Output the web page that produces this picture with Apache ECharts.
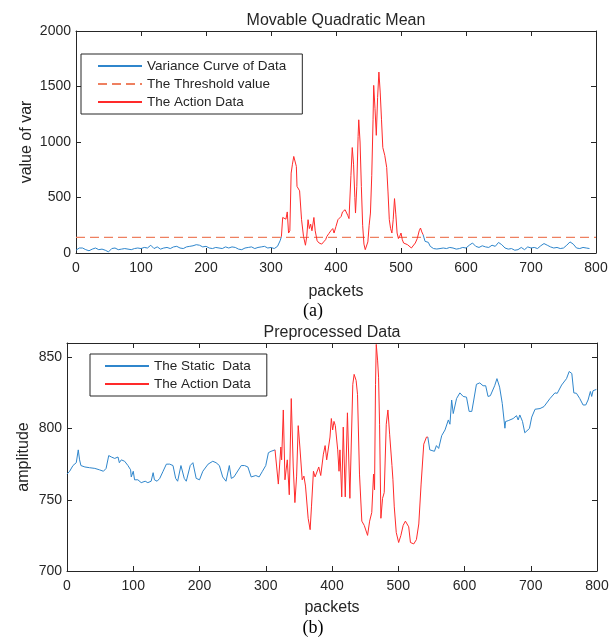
<!DOCTYPE html>
<html>
<head>
<meta charset="utf-8">
<script src="https://cdn.jsdelivr.net/npm/echarts@6/dist/echarts.min.js"></script>
<style>
  html, body { margin: 0; padding: 0; background: #fff; }
  #chart { width: 612px; height: 637px; }
</style>
</head>
<body>
<div id="chart"></div>
<script>
// ---- data ----
const xTicks = [0, 100, 200, 300, 400, 500, 600, 700, 800];
const thresholdValue = 140;

// (a) variance curve, before and after the action segment
const varianceHead = [[0,25],[5,45],[10,45],[15,30],[20,20],[25,35],[30,45],[35,30],[40,35],[45,25],[50,10],[55,40],[60,45],[65,30],[70,35],[75,40],[80,35],[85,30],[90,40],[95,45],[100,40],[105,50],[110,45],[115,70],[120,40],[125,55],[130,35],[135,45],[140,50],[145,40],[150,55],[155,60],[160,45],[165,40],[170,55],[175,60],[180,65],[185,75],[190,70],[195,55],[200,60],[205,45],[210,40],[215,50],[220,45],[225,40],[230,55],[235,45],[240,55],[245,50],[250,35],[255,30],[260,45],[265,50],[270,55],[275,40],[280,50],[285,55],[290,60],[295,45],[300,50],[305,40],[310,60],[314,110],[316,147]];
const varianceAction = [[316,147],[318,320],[321,310],[323,305],[325,370],[327,180],[329,200],[331,720],[333,800],[335,870],[337,885],[339,780],[340,600],[342,610],[344,560],[347,300],[350,150],[353,70],[355,150],[357,300],[359,220],[361,260],[363,200],[366,320],[368,200],[371,110],[374,90],[378,80],[381,100],[384,120],[386,150],[389,175],[392,200],[395,220],[397,180],[400,240],[403,300],[406,310],[408,330],[410,370],[412,360],[414,390],[416,390],[418,340],[420,310],[423,700],[425,950],[427,800],[429,500],[430,360],[432,600],[434,1050],[435,1200],[437,1000],[439,600],[441,250],[443,80],[445,30],[447,40],[449,100],[451,250],[453,360],[455,700],[457,1200],[458,1510],[460,1300],[462,1060],[464,1400],[466,1630],[468,1450],[470,1200],[472,950],[475,880],[478,770],[480,550],[482,300],[484,220],[486,180],[488,300],[490,490],[492,350],[494,180],[496,130],[498,150],[500,180],[502,120],[504,90],[507,80],[510,75],[513,70],[516,45],[519,55],[522,90],[525,130],[528,200],[530,225],[532,190],[534,165]];
const varianceTail = [[534,165],[537,105],[540,95],[542,96],[545,60],[547,45],[550,40],[555,36],[560,40],[565,45],[570,40],[575,50],[580,45],[585,35],[590,40],[595,50],[600,45],[605,70],[610,90],[615,60],[620,50],[625,65],[630,55],[635,50],[640,70],[645,60],[650,95],[655,75],[660,45],[665,35],[670,40],[675,25],[680,30],[685,50],[690,30],[695,55],[700,45],[705,50],[710,40],[715,65],[720,85],[725,70],[730,55],[735,45],[740,50],[745,40],[750,45],[755,70],[760,100],[765,80],[770,45],[775,40],[780,50],[785,45],[790,40]];

// (b) preprocessed amplitude
const staticHead = [[0,768],[4,770],[9,774],[14,776],[17,785],[19,778],[21,774],[27,773],[34,772.5],[42,772],[49,771],[55,770],[59,772],[63,781],[67,780],[72,779],[77,780],[79,776],[82,778],[87,777],[92,774],[96,771],[97,766],[100,770],[102,764],[107,764],[112,762],[118,763],[122,762],[127,763],[130,769],[132,764],[136,763],[140,765],[145,770],[150,775],[155,775],[160,774],[164,765],[167,763],[172,774],[175,775],[177,765],[180,763],[186,774],[190,776],[195,765],[200,764],[205,770],[213,775],[220,777],[225,776],[230,774],[235,766],[240,763],[245,774],[248,765],[252,766],[255,765],[263,774],[268,774],[273,773],[278,766],[280,765],[285,767],[290,766],[295,770],[300,774],[304,783],[308,784],[314,785]];
const actionAmplitude = [[314,785],[316.5,773],[319,761],[322.8,787],[324,778],[326.5,813],[329,764],[332.5,778],[335.5,753.5],[338.5,821],[341.5,773],[344,748],[346.6,766.6],[349,802],[351.5,787],[355,764],[357.6,766.6],[360,759.6],[364,737],[367,729],[369,745],[372,770],[374.5,766],[377,767],[380,773],[383,767],[387,782],[389.6,788],[392,778],[394,778],[397,794],[399,807],[401,799],[403,805],[405,802],[408.6,785],[410.6,770],[412,785],[414.7,752],[417,801],[420,752],[423.3,811],[427,751],[431.4,831],[433.4,838],[436.4,833.7],[438.5,824],[441.5,768],[445,735],[448.7,732],[453.7,725],[456.8,735],[460,741],[462.7,768],[464.2,757],[465.7,831],[466.8,859],[468.8,848],[470.3,836],[471.8,803],[473.8,737],[476.3,751],[478.8,755],[481.9,803],[484.4,813],[487,796],[490.5,774],[492,764],[494,745],[497,727],[500.6,720],[504,725],[507.4,732],[510.8,735],[513.3,733],[515.8,731],[518.4,720],[523.4,719],[527.4,722],[531,733],[534.5,761],[538.5,789],[542.6,794],[544.6,794]];
const staticTail = [[544.6,794],[547.6,785],[550.5,786],[554.6,784],[557.6,788],[561,786],[565.6,795],[570.6,799],[575.6,806],[578,803],[580.6,820],[583,810.5],[588,821],[593,825],[598,822.5],[603,822],[607,812],[611,812],[614,820],[618,831],[623,832],[628,830],[632,830],[635.5,822.5],[639,823],[642,822.5],[645.5,830],[649,835],[653,829],[657,817.6],[661,800.2],[662,804.9],[666,805.5],[673.5,807],[678.5,809],[681,806],[683.5,809.5],[687.5,805],[691,797],[694,796],[698,800],[701.5,808],[706.5,813.5],[714,814],[720,815.4],[729,821],[736.5,825],[740,824.7],[746.6,830.5],[754,835],[758,840],[762,838.6],[763.5,839],[765,825],[769,824.7],[774,821],[779,816.5],[783,816.5],[786.5,820],[790,826],[792,822.5],[794,826.5],[799,827.4]];

// ---- styling ----
const ink = '#262626';
const blue = '#2f86cc';
const red = '#ff2a2a';
const salmon = '#ee8060';
const sans = 'Liberation Sans, Arial, sans-serif';
const serif = 'Liberation Serif, Times New Roman, serif';

function xAxisFor(grid, pos, withLabels) {
    return {
        gridIndex: grid, type: 'value', position: pos,
        min: 0, max: 800, interval: 100,
        axisLine: { show: true, onZero: false, lineStyle: { color: ink, width: 1 } },
        axisTick: { show: true, inside: true, length: 5, lineStyle: { color: ink } },
        axisLabel: { show: withLabels, fontSize: 14, fontFamily: sans, color: ink, margin: 8 },
        splitLine: { show: false },
        name: withLabels ? 'packets' : '',
        nameLocation: 'middle',
        nameGap: grid === 0 ? 31 : 29,
        nameMoveOverlap: false,
        nameTextStyle: { fontSize: 16, fontFamily: sans, color: ink }
    };
}

function yAxisFor(grid, pos, withLabels, min, max, interval, name, gap) {
    return {
        gridIndex: grid, type: 'value', position: pos,
        min: min, max: max, interval: interval,
        axisLine: { show: true, onZero: false, lineStyle: { color: ink, width: 1 } },
        axisTick: { show: true, inside: true, length: 5, lineStyle: { color: ink } },
        axisLabel: {
            show: withLabels, fontSize: 14, fontFamily: sans, color: ink, margin: 5,
            formatter: (v) => (v % interval === 0 ? String(v) : '')
        },
        splitLine: { show: false },
        name: withLabels ? name : '',
        nameLocation: 'middle',
        nameGap: gap,
        nameMoveOverlap: false,
        nameTextStyle: { fontSize: 16, fontFamily: sans, color: ink }
    };
}

function line(name, data, xi, color, dashed) {
    return {
        name: name, type: 'line', data: data,
        xAxisIndex: xi, yAxisIndex: xi,
        symbol: 'none', showSymbol: false,
        lineStyle: { color: color, width: dashed ? 1.3 : 1, type: dashed ? [9, 5] : 'solid' },
        itemStyle: { color: color },
        emphasis: { disabled: true },
        silent: true
    };
}

function legendBox(names, left, top, padding) {
    return {
        data: names,
        orient: 'vertical', left: left, top: top,
        itemWidth: 44, itemHeight: 14, itemGap: 4,
        padding: padding,
        borderColor: ink, borderWidth: 1, backgroundColor: '#fff',
        itemStyle: { opacity: 0 },
        textStyle: { fontSize: 13.5, fontFamily: sans, color: ink },
        selectedMode: false
    };
}

const chart = echarts.init(document.getElementById('chart'));

chart.setOption({
    animation: false,
    backgroundColor: '#fff',
    grid: [
        { left: 76, top: 31, width: 520, height: 222 },
        { left: 67, top: 343, width: 530, height: 228 }
    ],
    xAxis: [
        xAxisFor(0, 'bottom', true),
        xAxisFor(0, 'top', false),
        xAxisFor(1, 'bottom', true),
        xAxisFor(1, 'top', false)
    ],
    yAxis: [
        yAxisFor(0, 'left', true, 0, 2000, 500, 'value of var', 41),
        yAxisFor(0, 'right', false, 0, 2000, 500, '', 0),
        yAxisFor(1, 'left', true, 700, 860, 50, 'amplitude', 35),
        yAxisFor(1, 'right', false, 700, 860, 50, '', 0)
    ],
    legend: [
        legendBox(['Variance Curve of Data', 'The Threshold value', 'The Action Data'], 81, 54, [5, 16, 5, 16]),
        legendBox(['The Static  Data', 'The Action Data'], 90, 354, [5, 16, 5, 14])
    ],
    graphic: [
        { type: 'text', x: 336, y: 21, style: { text: 'Movable Quadratic Mean', fontSize: 16, fontFamily: sans, fill: ink, textAlign: 'center', textVerticalAlign: 'middle' } },
        { type: 'text', x: 313, y: 311, style: { text: '(a)', fontSize: 18, fontFamily: serif, fill: '#000', textAlign: 'center', textVerticalAlign: 'middle' } },
        { type: 'text', x: 332, y: 333, style: { text: 'Preprocessed Data', fontSize: 16, fontFamily: sans, fill: ink, textAlign: 'center', textVerticalAlign: 'middle' } },
        { type: 'text', x: 313, y: 628, style: { text: '(b)', fontSize: 18, fontFamily: serif, fill: '#000', textAlign: 'center', textVerticalAlign: 'middle' } }
    ],
    series: [
        line('Variance Curve of Data', varianceHead, 0, blue),
        line('Variance Curve of Data', varianceTail, 0, blue),
        line('The Threshold value', [[xTicks[0], thresholdValue], [xTicks[xTicks.length - 1], thresholdValue]], 0, salmon, true),
        line('The Action Data', varianceAction, 0, red),
        line('The Static  Data', staticHead, 2, blue),
        line('The Static  Data', staticTail, 2, blue),
        line('The Action Data', actionAmplitude, 2, red)
    ]
});
</script>
</body>
</html>
